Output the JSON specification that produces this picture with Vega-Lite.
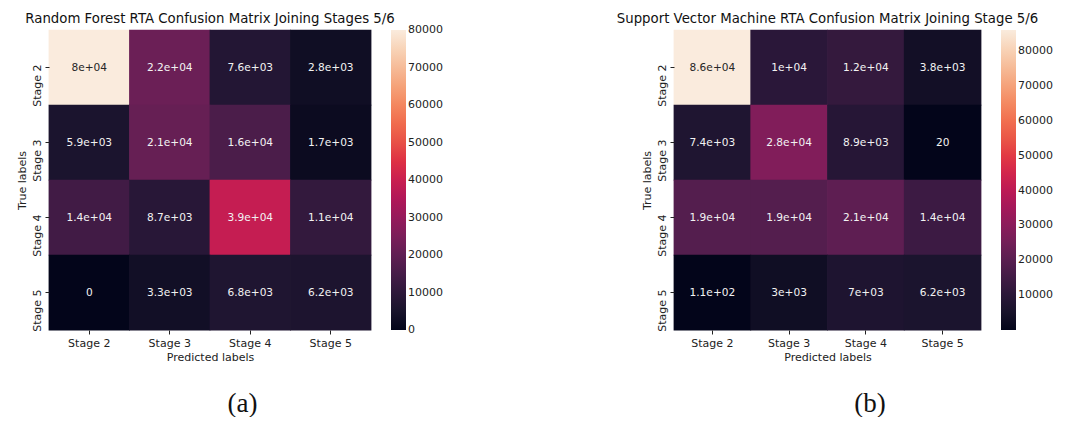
{
  "$schema": "https://vega.github.io/schema/vega-lite/v6.json",
  "background": "white",
  "padding": {"left": 16, "top": 12, "right": 0, "bottom": 0},
  "config": {
    "font": "DejaVu Sans",
    "view": {"stroke": null},
    "axis": {
      "domain": false,
      "grid": false,
      "ticks": true,
      "tickSize": 4,
      "tickColor": "#222222",
      "labelFont": "DejaVu Sans",
      "labelFontSize": 11,
      "labelColor": "#222222",
      "titleFont": "DejaVu Sans",
      "titleFontSize": 11,
      "titleFontWeight": "normal",
      "titleColor": "#222222"
    },
    "title": {"font": "DejaVu Sans", "fontSize": 13.3, "fontWeight": "normal", "color": "#111111", "offset": 4, "anchor": "middle", "frame": "group"},
    "legend": {
      "gradientLength": 300,
      "gradientThickness": 15,
      "labelFont": "DejaVu Sans",
      "labelFontSize": 11,
      "labelColor": "#222222",
      "labelOffset": 8,
      "labelBaseline": "middle",
      "padding": 0
    }
  },
  "datasets": {
    "rf": [
      {"true": "Stage 2", "pred": "Stage 2", "count": 80000},
      {"true": "Stage 2", "pred": "Stage 3", "count": 22000},
      {"true": "Stage 2", "pred": "Stage 4", "count": 7600},
      {"true": "Stage 2", "pred": "Stage 5", "count": 2800},
      {"true": "Stage 3", "pred": "Stage 2", "count": 5900},
      {"true": "Stage 3", "pred": "Stage 3", "count": 21000},
      {"true": "Stage 3", "pred": "Stage 4", "count": 16000},
      {"true": "Stage 3", "pred": "Stage 5", "count": 1700},
      {"true": "Stage 4", "pred": "Stage 2", "count": 14000},
      {"true": "Stage 4", "pred": "Stage 3", "count": 8700},
      {"true": "Stage 4", "pred": "Stage 4", "count": 39000},
      {"true": "Stage 4", "pred": "Stage 5", "count": 11000},
      {"true": "Stage 5", "pred": "Stage 2", "count": 0},
      {"true": "Stage 5", "pred": "Stage 3", "count": 3300},
      {"true": "Stage 5", "pred": "Stage 4", "count": 6800},
      {"true": "Stage 5", "pred": "Stage 5", "count": 6200}
    ],
    "svm": [
      {"true": "Stage 2", "pred": "Stage 2", "count": 86000},
      {"true": "Stage 2", "pred": "Stage 3", "count": 10000},
      {"true": "Stage 2", "pred": "Stage 4", "count": 12000},
      {"true": "Stage 2", "pred": "Stage 5", "count": 3800},
      {"true": "Stage 3", "pred": "Stage 2", "count": 7400},
      {"true": "Stage 3", "pred": "Stage 3", "count": 28000},
      {"true": "Stage 3", "pred": "Stage 4", "count": 8900},
      {"true": "Stage 3", "pred": "Stage 5", "count": 20},
      {"true": "Stage 4", "pred": "Stage 2", "count": 19000},
      {"true": "Stage 4", "pred": "Stage 3", "count": 19000},
      {"true": "Stage 4", "pred": "Stage 4", "count": 21000},
      {"true": "Stage 4", "pred": "Stage 5", "count": 14000},
      {"true": "Stage 5", "pred": "Stage 2", "count": 110},
      {"true": "Stage 5", "pred": "Stage 3", "count": 3000},
      {"true": "Stage 5", "pred": "Stage 4", "count": 7000},
      {"true": "Stage 5", "pred": "Stage 5", "count": 6200}
    ]
  },
  "spacing": 173,
  "hconcat": [
    {
      "title": {"text": "(a)", "orient": "bottom", "font": "Liberation Serif", "fontSize": 27, "color": "#111111", "offset": 29, "anchor": "middle", "frame": "bounds", "dx": 13},
      "vconcat": [
        {
          "data": {"name": "rf"},
          "title": "Random Forest RTA Confusion Matrix Joining Stages 5/6",
          "width": 322,
          "height": 300,
          "transform": [
            {"calculate": "replace(format(datum.count, '.2~g'), 'e+', 'e+0')", "as": "label"}
          ],
          "encoding": {
            "x": {"field": "pred", "type": "nominal", "title": "Predicted labels",
                  "axis": {"labelAngle": 0, "labelPadding": 3, "titlePadding": 3}},
            "y": {"field": "true", "type": "nominal", "title": "True labels",
                  "axis": {"labelAngle": 270, "labelAlign": "right", "labelBaseline": "bottom", "labelPadding": 3, "labelOffset": -3, "titlePadding": 4}}
          },
          "layer": [
            {
              "mark": {"type": "rect", "width": {"band": 1.01}, "height": {"band": 1.01}},
              "encoding": {
                "color": {"field": "count", "type": "quantitative",
                  "scale": {"domain": [0, 80000], "range": ["#03051a", "#35193e", "#701f57", "#ad1759", "#e13342", "#f37651", "#f6b48f", "#faebdd"]},
                  "legend": {"title": null, "format": "d", "orient": "none", "legendX": 342, "legendY": 0,
                             "values": [0, 10000, 20000, 30000, 40000, 50000, 60000, 70000, 80000],
                             "encode": {"labels": {"update": {"baseline": {"value": "middle"}}}}}}
              }
            },
            {
              "mark": {"type": "text", "fontSize": 10.6},
              "encoding": {
                "text": {"field": "label"},
                "color": {"condition": {"test": "datum.count > 50000", "value": "#262626"}, "value": "#f2f2f2"}
              }
            }
          ]
        }
      ]
    },
    {
      "title": {"text": "(b)", "orient": "bottom", "font": "Liberation Serif", "fontSize": 27, "color": "#111111", "offset": 29, "anchor": "middle", "frame": "bounds", "dx": 35},
      "vconcat": [
        {
          "data": {"name": "svm"},
          "title": "Support Vector Machine RTA Confusion Matrix Joining Stage 5/6",
          "width": 307,
          "height": 300,
          "transform": [
            {"calculate": "replace(format(datum.count, '.2~g'), 'e+', 'e+0')", "as": "label"}
          ],
          "encoding": {
            "x": {"field": "pred", "type": "nominal", "title": "Predicted labels",
                  "axis": {"labelAngle": 0, "labelPadding": 3, "titlePadding": 3}},
            "y": {"field": "true", "type": "nominal", "title": "True labels",
                  "axis": {"labelAngle": 270, "labelAlign": "right", "labelBaseline": "bottom", "labelPadding": 3, "labelOffset": -3, "titlePadding": 4}}
          },
          "layer": [
            {
              "mark": {"type": "rect", "width": {"band": 1.01}, "height": {"band": 1.01}},
              "encoding": {
                "color": {"field": "count", "type": "quantitative",
                  "scale": {"domain": [20, 86000], "range": ["#03051a", "#35193e", "#701f57", "#ad1759", "#e13342", "#f37651", "#f6b48f", "#faebdd"]},
                  "legend": {"title": null, "format": "d", "orient": "none", "legendX": 327, "legendY": 0,
                             "values": [10000, 20000, 30000, 40000, 50000, 60000, 70000, 80000],
                             "encode": {"labels": {"update": {"baseline": {"value": "middle"}}}}}}
              }
            },
            {
              "mark": {"type": "text", "fontSize": 10.6},
              "encoding": {
                "text": {"field": "label"},
                "color": {"condition": {"test": "datum.count > 50000", "value": "#262626"}, "value": "#f2f2f2"}
              }
            }
          ]
        }
      ]
    }
  ],
  "resolve": {"scale": {"color": "independent"}}
}
